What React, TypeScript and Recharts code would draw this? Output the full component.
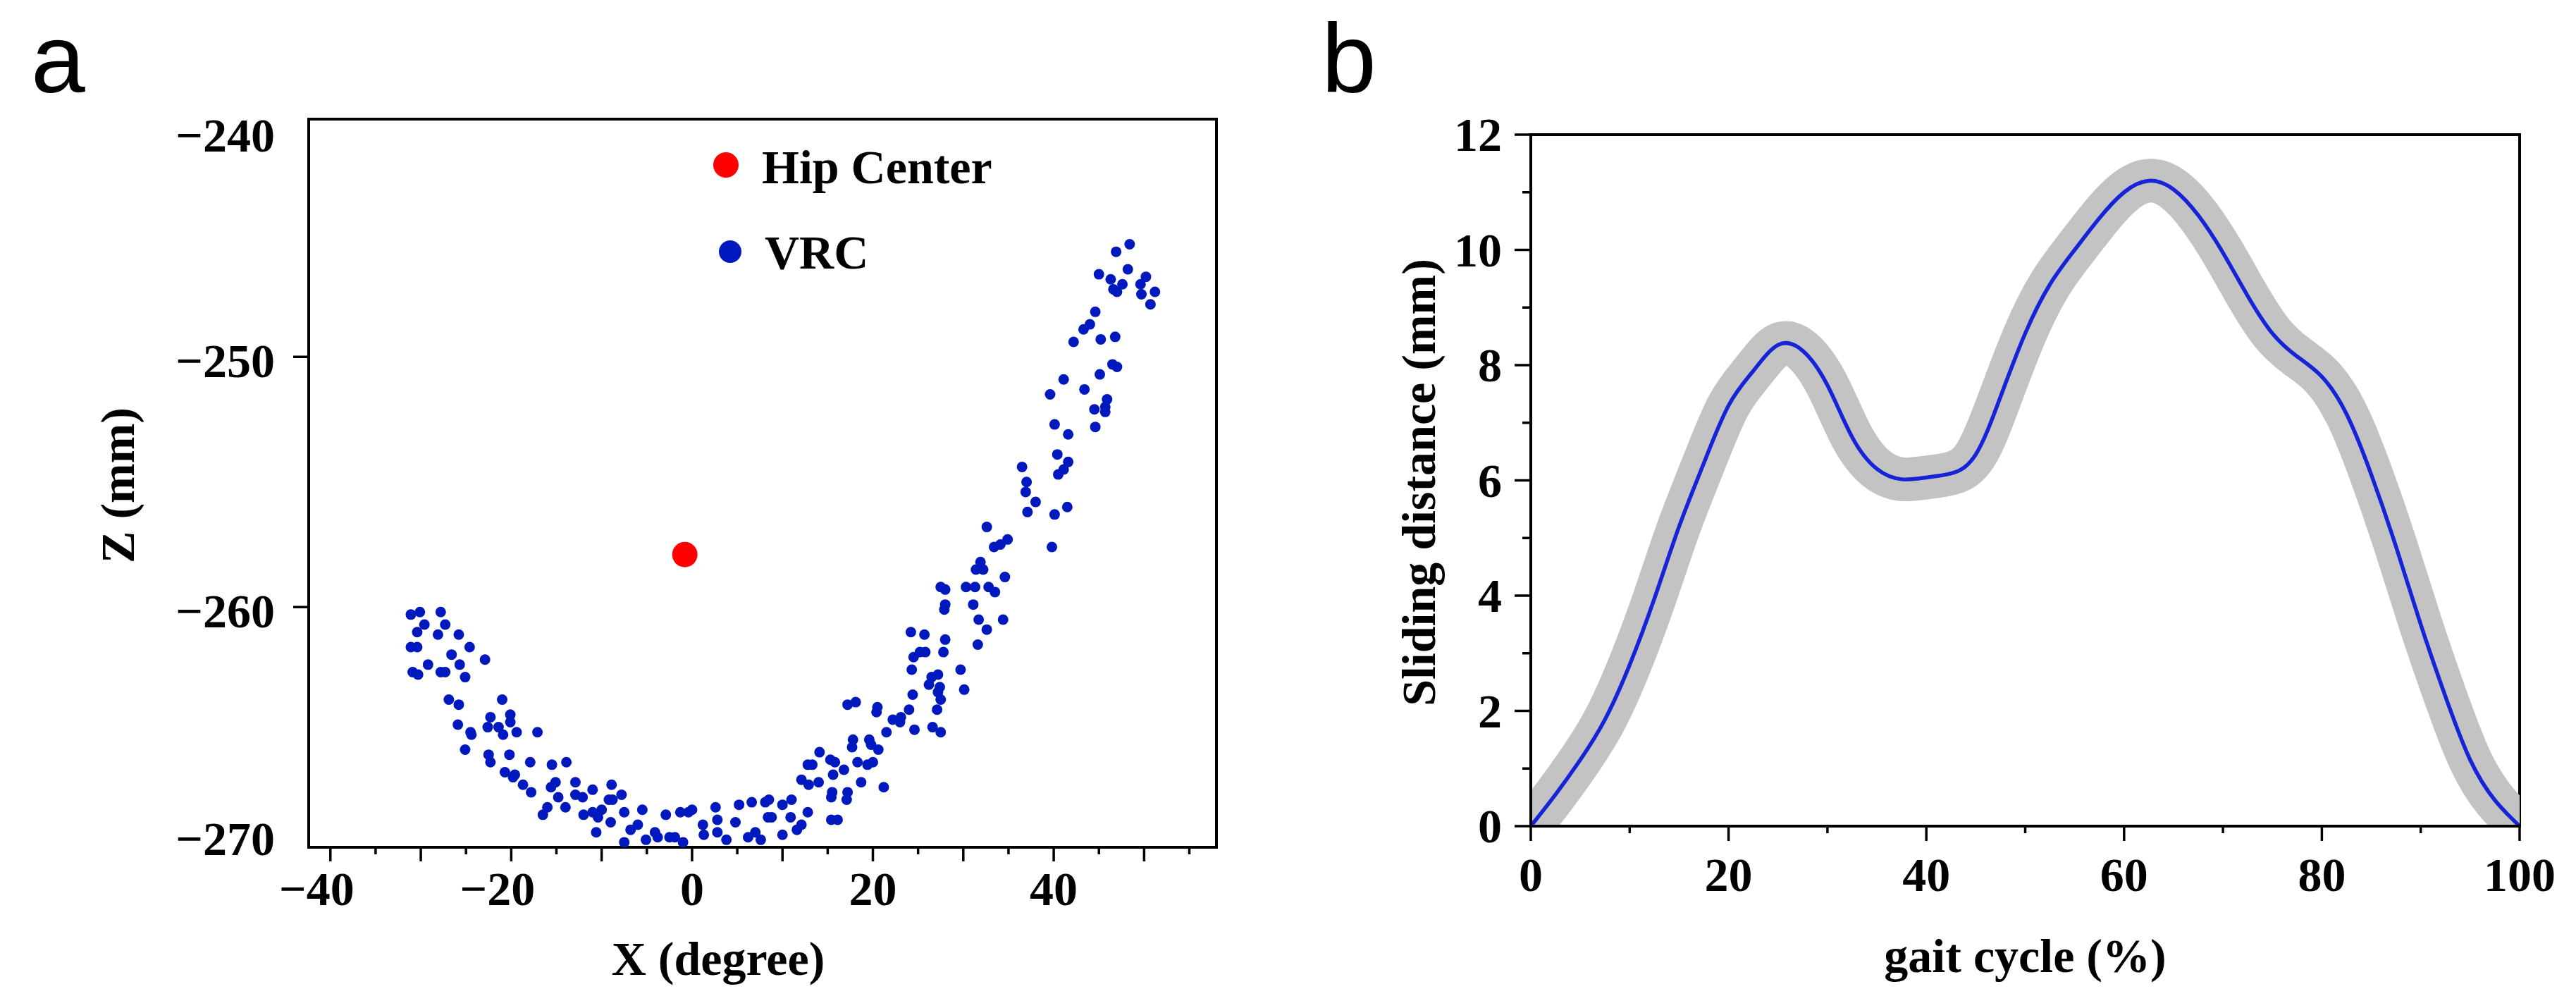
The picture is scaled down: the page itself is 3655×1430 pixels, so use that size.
import React from 'react';
import {
  ScatterChart,
  Scatter,
  LineChart,
  Line,
  XAxis,
  YAxis,
  ReferenceArea,
  Legend,
} from 'recharts';

const SERIF = '"Liberation Serif", "Times New Roman", Times, serif';
const SANS = '"Liberation Sans", Arial, Helvetica, sans-serif';
const TICK_FS = 68;
const TITLE_FS = 68;

// ---------- panel a : VRC scatter ----------
const vrcX = [
  -31.1, -30.1, -27.8, -29.6, -27.3, -30.4, -28.1, -25.8, -31.1, -30.4, -24.6, -26.6, -22.9, -29.2, -25.7,
  -30.9, -30.3, -27.8, -27.3, -25.1, -21.0, -26.9, -25.8, -22.3, -20.1, -20.1, -22.6, -21.4, -25.9, -24.5,
  -24.4, -20.9, -19.4, -17.1, -25.1, -22.5, -22.3, -20.2, -17.9, -15.5, -13.9, -20.7, -19.6, -19.8, -18.7,
  -17.8, -15.1, -15.6, -12.9, -11.0, -8.9, -7.8, -14.8, -12.9, -12.1, -9.2, -8.8, -14.0, -16.0, -16.5,
  -12.0, -11.0, -10.0, -10.4, -9.0, -7.5, -5.5, -2.9, -1.3, -0.4, 0.0, -10.6, -6.8, -6.0, -7.5,
  -5.1, -4.1, -3.8, -2.5, -1.9, -1.0, 1.2, 1.3,
  2.6, 2.8, 2.8, 3.8, 4.8, 5.2, 6.6, 6.2, 7.0, 7.6, 8.1, 8.5, 8.4, 8.8, 10.0,
  11.0, 10.0, 10.9, 11.6, 12.1, 12.8, 12.1, 12.9, 12.8, 13.3, 14.1, 14.0, 15.3, 15.8, 15.6,
  16.8, 15.5, 15.4, 17.2, 17.1, 15.4, 16.1, 17.2, 18.1, 17.8, 17.7, 18.3, 18.7, 19.6, 19.8,
  19.4, 20.0, 20.6, 20.5, 20.4, 21.2, 21.5, 22.2, 23.0, 23.1, 24.0, 24.6, 24.4, 24.3, 24.5,
  25.2, 25.8, 24.2, 25.7, 26.2, 26.5, 27.2, 27.4, 27.2, 27.5, 27.1, 26.6, 27.5, 27.8, 28.0,
  28.0, 27.9, 27.5, 28.0, 29.7, 30.1, 30.3, 31.3, 31.1, 31.7, 32.6, 31.6, 34.4, 32.8, 33.5,
  34.6, 31.4, 31.9, 32.2, 33.4, 34.1, 34.9, 32.6, 37.1, 39.8, 40.1,
  46.9, 48.4, 45.0, 46.3, 48.2, 47.6, 46.6, 47.0, 50.2, 49.6, 49.7, 51.2, 50.7, 44.6, 44.0,
  43.3, 42.2, 45.2, 46.8, 46.5, 47.0, 45.1, 41.1, 43.4, 39.6, 45.9, 45.7, 44.5, 45.7, 40.1,
  44.6, 41.6, 40.4, 41.6, 41.1, 40.5, 36.5, 37.0, 36.9, 38.0, 41.5,
];
const vrcZ = [
  -260.3, -260.2, -260.2, -260.7, -260.7, -261.0, -261.1, -261.1, -261.6, -261.6, -261.6, -261.9, -262.1, -262.3, -262.3,
  -262.6, -262.7, -262.6, -262.6, -262.8, -263.7, -263.7, -263.9, -264.4, -264.3, -264.6, -264.8, -264.8, -264.7, -265.0,
  -265.1, -265.1, -265.0, -265.0, -265.7, -265.9, -266.2, -265.9, -266.2, -266.3, -266.2, -266.6, -266.7, -266.8, -267.1,
  -267.4, -267.0, -267.2, -267.0, -267.3, -267.1, -267.5, -267.6, -267.5, -267.6, -267.7, -267.7, -268.0, -268.0, -268.3,
  -268.3, -268.2, -268.1, -268.4, -268.6, -268.2, -268.1, -268.3, -268.2, -268.2, -268.1, -269.0, -268.9, -268.7, -269.4,
  -269.3, -269.0, -269.2, -269.2, -269.2, -269.4, -268.7, -269.1,
  -268.0, -268.5, -269.0, -269.3, -268.6, -267.9, -267.8, -269.2, -269.0, -269.3, -267.8, -267.7, -268.4, -268.4, -267.9,
  -267.7, -269.1, -268.4, -268.9, -268.7, -268.2, -266.9, -267.1, -266.3, -266.3, -265.8, -267.0, -266.1, -266.2, -266.7,
  -266.5, -267.4, -267.6, -267.4, -267.7, -268.5, -268.5, -263.9, -263.8, -265.3, -265.6, -266.2, -267.0, -265.3, -265.5,
  -266.3, -266.2, -265.7, -264.0, -264.2, -267.2, -265.0, -264.5, -264.6, -264.4, -264.1, -264.9, -263.5, -262.5, -262.0,
  -261.8, -261.8, -261.0, -261.1, -263.1, -262.8, -262.7, -263.2, -263.4, -263.7, -264.1, -264.8, -265.0, -261.8, -261.3,
  -259.9, -260.1, -259.2, -259.3, -262.5, -263.3, -259.2, -259.2, -259.9, -260.5, -260.9, -261.5, -260.5, -259.2, -259.4,
  -258.8, -258.5, -258.2, -258.5, -257.6, -257.5, -257.3, -256.8, -256.2, -257.6, -256.3,
  -245.8, -245.5, -246.7, -246.9, -246.5, -247.1, -247.3, -247.4, -246.8, -247.1, -247.5, -247.4, -247.9, -248.2, -248.7,
  -248.9, -249.4, -249.3, -249.2, -250.3, -250.4, -250.7, -250.9, -251.3, -251.5, -251.7, -252.0, -252.1, -252.2, -252.7,
  -252.8, -253.1, -253.9, -254.2, -254.5, -254.7, -254.4, -255.0, -255.4, -255.8, -256.0,
];
const hipX = [-0.8];
const hipZ = [-257.9];

const xDomainA = [-42.4, 58.0];
const zDomainA = [-269.6, -240.5];
const xTicksA = [-40, -35, -30, -25, -20, -15, -10, -5, 0, 5, 10, 15, 20, 25, 30, 35, 40, 45, 50, 55];
const xLabelsA = [-40, -20, 0, 20, 40];
const zTicksA = [-270, -260, -250, -240];

// ---------- panel b : sliding distance ----------
const gaitCycle = [
  0, 2.5, 5, 7.5, 10, 12.5, 15, 17.5, 20, 22.5, 25, 27.5, 30, 32.5, 35, 37.5, 40, 42.5, 45, 47.5, 50,
  52.5, 55, 57.5, 60, 62.5, 65, 67.5, 70, 72.5, 75, 77.5, 80, 82.5, 85, 87.5, 90, 92.5, 95, 97.5, 100,
];
const slidingDistance = [
  0, 0.55, 1.15, 1.85, 2.8, 3.95, 5.2, 6.3, 7.3, 7.9, 8.35, 8.25, 7.65, 6.75, 6.2, 6.02, 6.05, 6.12, 6.45, 7.45, 8.55,
  9.4, 10.0, 10.55, 11.0, 11.2, 11.05, 10.6, 9.95, 9.2, 8.55, 8.15, 7.8, 7.15, 6.1, 4.85, 3.5, 2.25, 1.15, 0.45, 0,
];
const xTicksB = [0, 10, 20, 30, 40, 50, 60, 70, 80, 90, 100];
const yTicksB = [0, 1, 2, 3, 4, 5, 6, 7, 8, 9, 10, 11, 12];

const vrcData = vrcX.map((x, i) => ({ x, z: vrcZ[i] }));
const hipData = hipX.map((x, i) => ({ x, z: hipZ[i] }));
const slideData = gaitCycle.map((g, i) => ({ g, s: slidingDistance[i] }));

const PLOT_A = { top: 169, bottom: 1202 };
const BLUE_DOT = '#0019be';
const RED_DOT = '#ff0000';

const signed = (v: number) => (v < 0 ? '\u2212' + Math.abs(v) : String(v));

const tickText = {
  fontFamily: SERIF,
  fontWeight: 700,
  fontSize: TICK_FS,
  fill: '#000',
};

const renderXTickA = ({ x, y, payload }: any) => {
  const v = payload.value;
  const major = v % 10 === 0;
  const half = String(Math.abs(v)).length * TICK_FS * 0.25;
  return (
    <g>
      <line x1={x} x2={x} y1={y} y2={y + (major ? 20 : 10)} stroke="#000" strokeWidth={3.5} />
      {xLabelsA.includes(v) && (
        <text x={x + half} y={y + 82} textAnchor="end" {...tickText}>
          {signed(v)}
        </text>
      )}
    </g>
  );
};

const renderYTickA = ({ x, y, payload }: any) => {
  const v = payload.value;
  const inside = v >= zDomainA[0] && v <= zDomainA[1];
  // end labels sit just inside the frame, as in the original figure
  const cy = Math.max(PLOT_A.top + 23, Math.min(PLOT_A.bottom - 12, y + 6));
  return (
    <g>
      {inside && <line x1={x - 22} x2={x} y1={y} y2={y} stroke="#000" strokeWidth={3.5} />}
      <text x={x - 48} y={cy + 23} textAnchor="end" {...tickText}>
        {signed(v)}
      </text>
    </g>
  );
};

const renderXTickB = ({ x, y, payload }: any) => {
  const v = payload.value;
  const major = v % 20 === 0;
  return (
    <g>
      <line x1={x} x2={x} y1={y} y2={y + (major ? 21 : 10)} stroke="#000" strokeWidth={3.5} />
      {major && (
        <text x={x} y={y + 92} textAnchor="middle" {...tickText}>
          {v}
        </text>
      )}
    </g>
  );
};

const renderYTickB = ({ x, y, payload }: any) => {
  const v = payload.value;
  const major = v % 2 === 0;
  return (
    <g>
      <line x1={x - (major ? 23 : 12)} x2={x} y1={y} y2={y} stroke="#000" strokeWidth={3.5} />
      {major && (
        <text x={x - 41} y={y + 23} textAnchor="end" {...tickText}>
          {v}
        </text>
      )}
    </g>
  );
};

const titleText = {
  fontFamily: SERIF,
  fontWeight: 700,
  fontSize: TITLE_FS,
  fill: '#000',
};

const renderLegend = ({ payload }: any) => {
  const rows = [
    { cx: 30, cy: 34, r: 18, tx: 81, ty: 60 },
    { cx: 36, cy: 157, r: 16, tx: 85, ty: 181 },
  ];
  const items = [...(payload || [])].sort((a: any, b: any) =>
    a.value === 'Hip Center' ? -1 : b.value === 'Hip Center' ? 1 : 0
  );
  return (
    <svg width={460} height={220} style={{ display: 'block', overflow: 'visible' }}>
      {items.map((entry: any, i: number) => {
        const row = rows[i] || rows[1];
        const color = entry.value === 'Hip Center' ? RED_DOT : BLUE_DOT;
        return (
          <g key={entry.value}>
            <circle cx={row.cx} cy={row.cy} r={row.r} fill={entry.color || color} />
            <text x={row.tx} y={row.ty} {...titleText}>
              {entry.value}
            </text>
          </g>
        );
      })}
    </svg>
  );
};

const dot = (r: number, fill: string) => (props: any) =>
  <circle cx={props.cx} cy={props.cy} r={r} fill={fill} />;

export default function App() {
  return (
    <div
      style={{
        position: 'absolute',
        left: 0,
        top: 0,
        width: 3655,
        height: 1430,
        background: '#fff',
        overflow: 'hidden',
      }}
    >
      {/* panel a */}
      <div style={{ position: 'absolute', left: 0, top: 0 }}>
        <ScatterChart width={1800} height={1430} margin={{ top: 169, right: 74, bottom: 28, left: 138 }}>
          <XAxis
            type="number"
            dataKey="x"
            domain={xDomainA}
            allowDataOverflow
            ticks={xTicksA}
            interval={0}
            tickSize={0}
            tickMargin={0}
            tickLine={false}
            axisLine={{ stroke: '#000', strokeWidth: 4 }}
            height={200}
            tick={renderXTickA}
            label={({ viewBox }: any) => (
              <text x={viewBox.x + viewBox.width / 2 - 63} y={viewBox.y + 181} textAnchor="middle" {...titleText}>
                X (degree)
              </text>
            )}
          />
          <YAxis
            type="number"
            dataKey="z"
            domain={zDomainA}
            allowDataOverflow
            ticks={zTicksA}
            interval={0}
            tickSize={0}
            tickMargin={0}
            tickLine={false}
            axisLine={{ stroke: '#000', strokeWidth: 4 }}
            width={300}
            tick={renderYTickA}
            label={({ viewBox }: any) => {
              const cx = viewBox.x + viewBox.width - 265;
              const cy = viewBox.y + viewBox.height / 2 + 3;
              return (
                <text x={cx} y={cy} dy="0.25em" textAnchor="middle" transform={`rotate(-90, ${cx}, ${cy})`} {...titleText}>
                  Z (mm)
                </text>
              );
            }}
          />
          <ReferenceArea
            x1={xDomainA[0]}
            x2={xDomainA[1]}
            y1={zDomainA[0]}
            y2={zDomainA[1]}
            fill="none"
            fillOpacity={0}
            stroke="#000"
            strokeWidth={4}
            ifOverflow="visible"
          />
          <Scatter name="Hip Center" data={hipData} fill={RED_DOT} shape={dot(18, RED_DOT)} isAnimationActive={false} />
          <Scatter name="VRC" data={vrcData} fill={BLUE_DOT} shape={dot(7.5, BLUE_DOT)} isAnimationActive={false} />
          <Legend
            layout="vertical"
            align="center"
            verticalAlign="middle"
            content={renderLegend}
            wrapperStyle={{ left: 1000, top: 200, width: 460, height: 220 }}
          />
        </ScatterChart>
      </div>

      {/* panel b */}
      <div style={{ position: 'absolute', left: 1800, top: 0 }}>
        <LineChart width={1855} height={1430} data={slideData} margin={{ top: 191, right: 80, bottom: 58, left: 72 }}>
          <XAxis
            type="number"
            dataKey="g"
            domain={[0, 100]}
            allowDataOverflow
            ticks={xTicksB}
            interval={0}
            tickSize={0}
            tickMargin={0}
            tickLine={false}
            axisLine={{ stroke: '#000', strokeWidth: 4 }}
            height={200}
            tick={renderXTickB}
            label={({ viewBox }: any) => (
              <text x={viewBox.x + viewBox.width / 2} y={viewBox.y + 207} textAnchor="middle" {...titleText}>
                gait cycle (%)
              </text>
            )}
          />
          <YAxis
            type="number"
            domain={[0, 12]}
            allowDataOverflow
            ticks={yTicksB}
            interval={0}
            tickSize={0}
            tickMargin={0}
            tickLine={false}
            axisLine={{ stroke: '#000', strokeWidth: 4 }}
            width={300}
            tick={renderYTickB}
            label={({ viewBox }: any) => {
              const cx = viewBox.x + viewBox.width - 153;
              const cy = viewBox.y + viewBox.height / 2 + 3;
              return (
                <text x={cx} y={cy} dy="0.25em" textAnchor="middle" transform={`rotate(-90, ${cx}, ${cy})`} {...titleText}>
                  Sliding distance (mm)
                </text>
              );
            }}
          />
          <Line
            type="natural"
            dataKey="s"
            stroke="#c3c3c3"
            strokeWidth={62}
            strokeLinecap="butt"
            dot={false}
            activeDot={false}
            isAnimationActive={false}
          />
          <Line
            type="natural"
            dataKey="s"
            stroke="#1624d8"
            strokeWidth={5.5}
            dot={false}
            activeDot={false}
            isAnimationActive={false}
          />
          <ReferenceArea
            x1={0}
            x2={100}
            y1={0}
            y2={12}
            fill="none"
            fillOpacity={0}
            stroke="#000"
            strokeWidth={4}
            ifOverflow="visible"
          />
        </LineChart>
      </div>

      {/* panel letters */}
      <svg
        width={3655}
        height={1430}
        style={{ position: 'absolute', left: 0, top: 0, pointerEvents: 'none' }}
      >
        <text x={44} y={131} fontFamily={SANS} fontSize={138} fill="#000">
          a
        </text>
        <text x={1875} y={131} fontFamily={SANS} fontSize={140} fill="#000">
          b
        </text>
      </svg>
    </div>
  );
}
